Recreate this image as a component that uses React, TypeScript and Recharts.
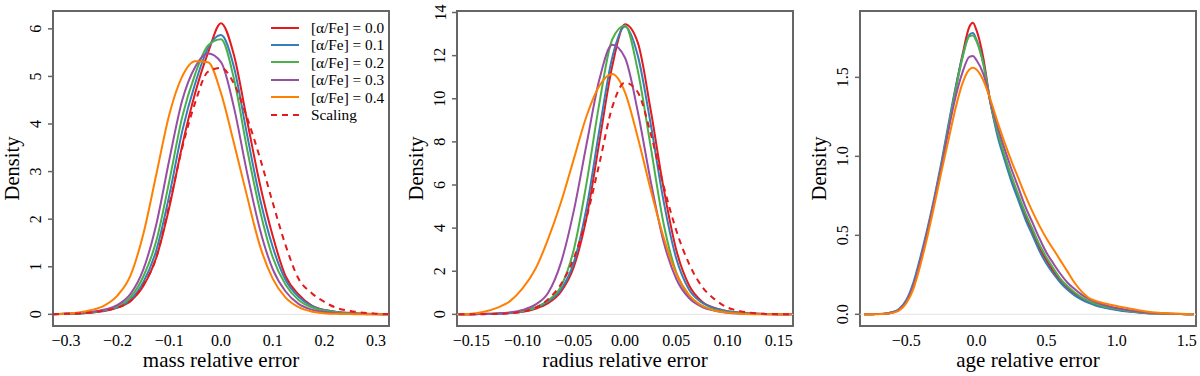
import React from 'react';
import { LineChart, Line, XAxis, YAxis, ReferenceArea, ReferenceLine, Legend, Label } from 'recharts';

const FONT = '"Liberation Serif", "DejaVu Serif", serif';
const AXIS_GREY = '#666666';

const SERIES = [
  { key: 'a0', name: '[α/Fe] = 0.0', color: '#E41A1C' },
  { key: 'a1', name: '[α/Fe] = 0.1', color: '#377EB8' },
  { key: 'a2', name: '[α/Fe] = 0.2', color: '#4DAF4A' },
  { key: 'a3', name: '[α/Fe] = 0.3', color: '#984EA3' },
  { key: 'a4', name: '[α/Fe] = 0.4', color: '#FF7F00' },
  { key: 'scaling', name: 'Scaling', color: '#E41A1C', dash: '6 5' },
];

// mass panel
const massX = [-0.325, -0.3, -0.275, -0.25, -0.225, -0.2, -0.175, -0.15, -0.125, -0.1, -0.075, -0.05, -0.025, 0, 0.025, 0.05, 0.075, 0.1, 0.125, 0.15, 0.175, 0.2, 0.225, 0.25, 0.275, 0.3, 0.325];
const massA0 = [0, 0.01, 0.02, 0.04, 0.07, 0.14, 0.28, 0.6, 1.2, 2.25, 3.55, 4.65, 5.5, 6.12, 5.45, 4.1, 2.75, 1.65, 0.8, 0.42, 0.19, 0.09, 0.05, 0.03, 0.015, 0.005, 0];
const massA1 = [0, 0.01, 0.02, 0.04, 0.08, 0.15, 0.31, 0.68, 1.35, 2.5, 3.85, 4.85, 5.6, 5.87, 5.2, 3.8, 2.45, 1.42, 0.72, 0.37, 0.18, 0.09, 0.05, 0.025, 0.012, 0.005, 0];
const massA2 = [0, 0.01, 0.02, 0.045, 0.09, 0.17, 0.36, 0.8, 1.55, 2.8, 4.15, 5.05, 5.65, 5.78, 4.95, 3.5, 2.2, 1.2, 0.62, 0.3, 0.15, 0.08, 0.04, 0.02, 0.01, 0.005, 0];
const massA3 = [0, 0.01, 0.025, 0.05, 0.1, 0.2, 0.43, 0.95, 1.9, 3.25, 4.5, 5.2, 5.48, 5.3, 4.35, 3.0, 1.8, 0.95, 0.48, 0.22, 0.1, 0.05, 0.025, 0.012, 0.005, 0, 0];
const massA4 = [0.005, 0.015, 0.04, 0.09, 0.19, 0.4, 0.82, 1.7, 2.95, 4.2, 5.0, 5.32, 5.3, 4.65, 3.6, 2.5, 1.45, 0.75, 0.35, 0.15, 0.06, 0.025, 0.01, 0.005, 0, 0, 0];
const massScaling = [0.005, 0.01, 0.02, 0.04, 0.08, 0.14, 0.28, 0.62, 1.2, 2.3, 3.5, 4.45, 5.1, 5.18, 4.85, 4.15, 3.3, 2.35, 1.45, 0.75, 0.45, 0.26, 0.13, 0.07, 0.035, 0.015, 0.005];
const massXTicks = [-0.3, -0.2, -0.1, 0, 0.1, 0.2, 0.3];
const massYTicks = [0, 1, 2, 3, 4, 5, 6];

// radius panel
const radiusX = [-0.1625, -0.15, -0.1375, -0.125, -0.1125, -0.1, -0.0875, -0.075, -0.0625, -0.05, -0.0375, -0.025, -0.0125, 0, 0.0125, 0.025, 0.0375, 0.05, 0.0625, 0.075, 0.0875, 0.1, 0.1125, 0.125, 0.1375, 0.15, 0.1625];
const radiusA0 = [0, 0.01, 0.015, 0.03, 0.06, 0.12, 0.26, 0.52, 1.05, 2.2, 4.5, 8.0, 11.5, 13.45, 12.6, 9.5, 5.9, 3.0, 1.35, 0.6, 0.3, 0.15, 0.08, 0.04, 0.02, 0.01, 0];
const radiusA1 = [0, 0.01, 0.015, 0.03, 0.06, 0.13, 0.3, 0.6, 1.15, 2.4, 4.95, 8.55, 11.9, 13.35, 12.0, 8.85, 5.3, 2.6, 1.15, 0.55, 0.28, 0.15, 0.08, 0.04, 0.02, 0.01, 0];
const radiusA2 = [0, 0.01, 0.02, 0.035, 0.07, 0.15, 0.32, 0.65, 1.3, 3.0, 6.1, 9.8, 12.75, 13.4, 11.3, 7.8, 4.25, 1.95, 0.85, 0.4, 0.2, 0.1, 0.05, 0.025, 0.012, 0.005, 0];
const radiusA3 = [0, 0.01, 0.02, 0.04, 0.09, 0.2, 0.45, 1.0, 2.4, 4.8, 7.9, 10.9, 12.5, 11.9, 9.4, 6.2, 3.4, 1.65, 0.75, 0.35, 0.17, 0.08, 0.04, 0.02, 0.01, 0.005, 0];
const radiusA4 = [0.01, 0.03, 0.12, 0.3, 0.6, 1.2, 2.1, 3.5, 5.2, 7.2, 9.2, 10.6, 11.15, 10.3, 8.2, 5.8, 3.6, 1.9, 0.9, 0.4, 0.18, 0.08, 0.03, 0.01, 0.005, 0, 0];
const radiusScaling = [0, 0.005, 0.01, 0.02, 0.05, 0.12, 0.3, 0.7, 1.4, 2.6, 4.5, 7.0, 9.6, 10.75, 10.3, 8.4, 6.0, 3.9, 2.35, 1.3, 0.7, 0.32, 0.15, 0.06, 0.02, 0.01, 0];
const radiusXTicks = [-0.15, -0.1, -0.05, 0, 0.05, 0.1, 0.15];
const radiusYTicks = [0, 2, 4, 6, 8, 10, 12, 14];

// age panel
const ageX = [-0.8, -0.75, -0.7, -0.65, -0.6, -0.55, -0.5, -0.45, -0.4, -0.35, -0.3, -0.25, -0.2, -0.15, -0.1, -0.05, -0.025, 0, 0.05, 0.1, 0.15, 0.2, 0.25, 0.3, 0.35, 0.4, 0.45, 0.5, 0.55, 0.6, 0.65, 0.7, 0.75, 0.8, 0.85, 0.9, 0.95, 1.0, 1.1, 1.2, 1.3, 1.4, 1.5, 1.55];
const ageA0 = [0, 0, 0.002, 0.004, 0.011, 0.03, 0.08, 0.18, 0.34, 0.52, 0.72, 0.94, 1.18, 1.42, 1.64, 1.82, 1.845, 1.8, 1.62, 1.34, 1.15, 1.0, 0.86, 0.74, 0.62, 0.52, 0.42, 0.34, 0.27, 0.21, 0.165, 0.13, 0.1, 0.078, 0.061, 0.048, 0.038, 0.03, 0.017, 0.009, 0.005, 0.002, 0.001, 0];
const ageA1 = [0, 0.001, 0.002, 0.005, 0.013, 0.035, 0.09, 0.2, 0.36, 0.54, 0.74, 0.96, 1.2, 1.43, 1.63, 1.77, 1.78, 1.74, 1.59, 1.34, 1.13, 0.98, 0.84, 0.72, 0.6, 0.5, 0.4, 0.32, 0.255, 0.2, 0.155, 0.12, 0.093, 0.072, 0.056, 0.044, 0.035, 0.028, 0.016, 0.009, 0.005, 0.002, 0.001, 0];
const ageA2 = [0, 0, 0.002, 0.004, 0.011, 0.03, 0.08, 0.18, 0.34, 0.52, 0.72, 0.94, 1.18, 1.41, 1.62, 1.76, 1.765, 1.73, 1.58, 1.34, 1.16, 1.01, 0.875, 0.755, 0.64, 0.54, 0.44, 0.36, 0.29, 0.225, 0.178, 0.14, 0.108, 0.085, 0.067, 0.053, 0.042, 0.034, 0.019, 0.01, 0.005, 0.002, 0.001, 0];
const ageA3 = [0, 0, 0.002, 0.004, 0.011, 0.03, 0.08, 0.18, 0.34, 0.52, 0.72, 0.93, 1.16, 1.37, 1.53, 1.63, 1.635, 1.61, 1.52, 1.35, 1.19, 1.05, 0.92, 0.8, 0.68, 0.58, 0.48, 0.39, 0.32, 0.255, 0.2, 0.16, 0.125, 0.098, 0.078, 0.062, 0.05, 0.04, 0.024, 0.013, 0.007, 0.003, 0.001, 0];
const ageA4 = [0, 0, 0.001, 0.003, 0.009, 0.025, 0.07, 0.16, 0.31, 0.49, 0.69, 0.9, 1.1, 1.3, 1.46, 1.55, 1.56, 1.55, 1.48, 1.36, 1.22, 1.09, 0.97, 0.86, 0.75, 0.65, 0.56, 0.48, 0.41, 0.34, 0.27, 0.2, 0.145, 0.105, 0.085, 0.072, 0.062, 0.053, 0.035, 0.02, 0.01, 0.005, 0.002, 0.001];
const ageXTicks = [-0.5, 0, 0.5, 1, 1.5];
const ageYTicks = [0, 0.5, 1, 1.5];

const buildRows = (xs: number[], cols: Record<string, number[]>) =>
  xs.map((x, i) => {
    const row: Record<string, number> = { x };
    Object.keys(cols).forEach((k) => {
      row[k] = cols[k][i];
    });
    return row;
  });

const massData = buildRows(massX, { a0: massA0, a1: massA1, a2: massA2, a3: massA3, a4: massA4, scaling: massScaling });
const radiusData = buildRows(radiusX, { a0: radiusA0, a1: radiusA1, a2: radiusA2, a3: radiusA3, a4: radiusA4, scaling: radiusScaling });
const ageData = buildRows(ageX, { a0: ageA0, a1: ageA1, a2: ageA2, a3: ageA3, a4: ageA4 });

const fmt = (dec: number) => (v: number) => (v < 0 ? '\u2212' : '') + Math.abs(v).toFixed(dec);

const textStyle = (size: number) => ({ fontFamily: FONT, fontSize: size, fill: '#000' });

const renderLegend = () => (
  <div style={{ fontFamily: FONT, fontSize: 15.3, color: '#000' }}>
    {SERIES.map((s) => (
      <div key={s.key} style={{ display: 'flex', alignItems: 'center', height: 17.4 }}>
        <svg width={28} height={4} style={{ display: 'block' }}>
          <line x1={0} y1={2} x2={28} y2={2} stroke={s.color} strokeWidth={2} strokeDasharray={s.dash} />
        </svg>
        <span style={{ marginLeft: 12, whiteSpace: 'nowrap', lineHeight: '17.4px' }}>{s.name}</span>
      </div>
    ))}
  </div>
);

interface PanelProps {
  left: number;
  data: Record<string, number>[];
  keys: string[];
  xDomain: [number, number];
  yDomain: [number, number];
  xTicks: number[];
  yTicks: number[];
  xDec: number;
  yDec: number;
  xTitle: string;
  yAxisWidth: number;
  rightMargin: number;
  legend?: boolean;
}

const Panel = ({ left, data, keys, xDomain, yDomain, xTicks, yTicks, xDec, yDec, xTitle, yAxisWidth, rightMargin, legend }: PanelProps) => {
  const plotLeft = yAxisWidth;
  const plotRight = 400 - rightMargin;
  const cx = (plotLeft + plotRight) / 2;
  const fx = fmt(xDec);
  const fy = fmt(yDec);
  const tx = plotLeft - 34.5;
  return (
    <div style={{ position: 'absolute', left, top: 0 }}>
      <LineChart width={400} height={376} data={data} margin={{ top: 11, right: rightMargin, bottom: 0, left: 0 }}>
        <XAxis
          type="number"
          dataKey="x"
          domain={xDomain}
          allowDataOverflow
          ticks={xTicks}
          interval={0}
          height={50}
          axisLine={false}
          tickLine={false}
          tick={(p: any) => (
            <text x={p.x} y={345.5} textAnchor="middle" style={textStyle(16)}>
              {fx(p.payload.value)}
            </text>
          )}
        >
          <Label
            content={() => (
              <text x={cx} y={366.5} textAnchor="middle" style={textStyle(21)}>
                {xTitle}
              </text>
            )}
          />
        </XAxis>
        <YAxis
          type="number"
          domain={yDomain}
          allowDataOverflow
          ticks={yTicks}
          interval={0}
          width={yAxisWidth}
          axisLine={false}
          tickSize={5}
          tickLine={{ stroke: AXIS_GREY, strokeWidth: 1.5 }}
          tick={(p: any) => {
            const bx = plotLeft - 11.5;
            return (
              <text
                x={bx}
                y={p.y}
                transform={`rotate(-90, ${bx}, ${p.y})`}
                textAnchor="middle"
                style={textStyle(16)}
              >
                {fy(p.payload.value)}
              </text>
            );
          }}
        >
          <Label
            content={() => (
              <text x={tx} y={168.5} transform={`rotate(-90, ${tx}, 168.5)`} textAnchor="middle" style={textStyle(20.5)}>
                Density
              </text>
            )}
          />
        </YAxis>
        <ReferenceLine y={0} stroke="#e3e3e3" strokeWidth={1} />
        {SERIES.filter((s) => keys.includes(s.key)).map((s) => (
          <Line
            key={s.key}
            type="monotone"
            dataKey={s.key}
            name={s.name}
            stroke={s.color}
            strokeWidth={2}
            strokeDasharray={s.dash}
            dot={false}
            activeDot={false}
            isAnimationActive={false}
          />
        ))}
        <ReferenceArea
          x1={xDomain[0]}
          x2={xDomain[1]}
          y1={yDomain[0]}
          y2={yDomain[1]}
          fill="none"
          fillOpacity={0}
          stroke={AXIS_GREY}
          strokeWidth={2}
        />
        {legend && (
          <Legend
            layout="vertical"
            align="center"
            verticalAlign="middle"
            wrapperStyle={{ position: 'absolute', top: 19, left: 271, width: 125 }}
            content={renderLegend}
          />
        )}
      </LineChart>
    </div>
  );
};

export default function App() {
  return (
    <div style={{ position: 'absolute', left: 0, top: 0, width: 1200, height: 376, background: '#fff' }}>
      <Panel
        left={0}
        data={massData}
        keys={['a0', 'a1', 'a2', 'a3', 'a4', 'scaling']}
        xDomain={[-0.325, 0.325]}
        yDomain={[-0.245, 6.375]}
        xTicks={massXTicks}
        yTicks={massYTicks}
        xDec={1}
        yDec={0}
        xTitle="mass relative error"
        yAxisWidth={53}
        rightMargin={11}
        legend
      />
      <Panel
        left={400}
        data={radiusData}
        keys={['a0', 'a1', 'a2', 'a3', 'a4', 'scaling']}
        xDomain={[-0.164, 0.164]}
        yDomain={[-0.54, 14.07]}
        xTicks={radiusXTicks}
        yTicks={radiusYTicks}
        xDec={2}
        yDec={0}
        xTitle="radius relative error"
        yAxisWidth={57}
        rightMargin={7}
      />
      <Panel
        left={800}
        data={ageData}
        keys={['a0', 'a1', 'a2', 'a3', 'a4']}
        xDomain={[-0.83, 1.566]}
        yDomain={[-0.074, 1.92]}
        xTicks={ageXTicks}
        yTicks={ageYTicks}
        xDec={1}
        yDec={1}
        xTitle="age relative error"
        yAxisWidth={60}
        rightMargin={4}
      />
    </div>
  );
}
